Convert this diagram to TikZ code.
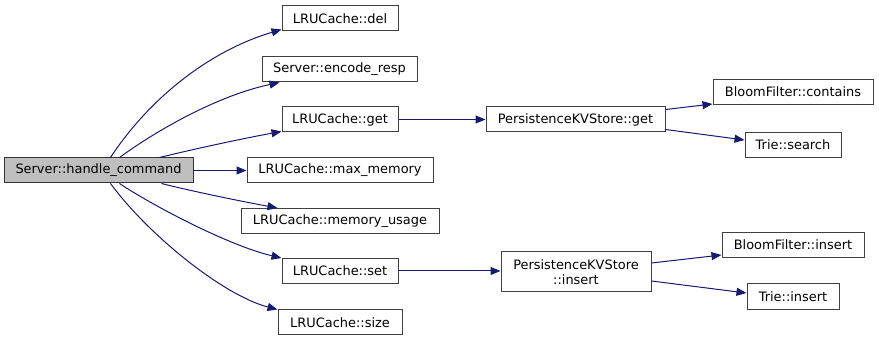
\documentclass[tikz,border=0pt]{standalone}
\usepackage{fontspec}
\setmainfont{DejaVu Sans}
\usetikzlibrary{arrows.meta}
\definecolor{edgeblue}{HTML}{191970}
\definecolor{boxline}{HTML}{404040}
\definecolor{rootfill}{HTML}{BFBFBF}
\tikzset{
  fn/.style={draw=boxline, line width=0.75pt, fill=white, inner sep=0pt,
    minimum height=18.75pt, align=center, font=\fontsize{9.7}{11.2}\selectfont},
  root/.style={fn, fill=rootfill, draw=black!80},
  call/.style={draw=edgeblue, line width=0.75pt,
    -{Triangle[length=7.5pt,width=6pt]}},
}
\begin{document}
\begin{tikzpicture}[x=0.75pt, y=-0.75pt]
\useasboundingbox (0,0) rectangle (879,341);

% functions
\node[root, minimum width=141.75pt] (hc) at (98.5,170.5) {Server::handle\_command};
\node[fn, minimum width=87pt] (del) at (340,18.5) {LRUCache::del};
\node[fn, minimum width=116.25pt] (enc) at (339.5,69.5) {Server::encode\_resp};
\node[fn, minimum width=87pt] (get) at (340,119.5) {LRUCache::get};
\node[fn, minimum width=139.5pt] (maxm) at (340,170.5) {LRUCache::max\_memory};
\node[fn, minimum width=148.5pt] (mem) at (340,221) {LRUCache::memory\_usage};
\node[fn, minimum width=87pt] (set) at (340,271) {LRUCache::set};
\node[fn, minimum width=93pt] (size) at (340,322.5) {LRUCache::size};
\node[fn, minimum width=134.25pt] (pget) at (575.5,119.5) {PersistenceKVStore::get};
\node[fn, minimum width=120pt] (bfc) at (793,92) {BloomFilter::contains};
\node[fn, minimum width=72pt] (ts) at (793,145) {Trie::search};
\node[fn, minimum width=112.5pt, minimum height=30pt] (pins) at (576,272) {PersistenceKVStore\\::insert};
\node[fn, minimum width=106.5pt] (bfi) at (793,245) {BloomFilter::insert};
\node[fn, minimum width=69pt, minimum height=19.5pt] (ti) at (793,296.5) {Trie::insert};

% calls made by handle_command
\draw[call] ([xshift=80.25pt]hc.north west) .. controls (151,96) and (212,50) .. ([yshift=1.5pt]del.south west);
\draw[call] ([xshift=87pt]hc.north west) .. controls (160,128) and (220,95) .. ([xshift=13.5pt]enc.south west);
\draw[call] ([xshift=117pt]hc.north west) .. controls (190,150) and (240,139) .. ([yshift=0.75pt]get.south west);
\draw[call] (hc.east) -- (maxm.west);
\draw[call] ([xshift=118.5pt]hc.south west) .. controls (195,192) and (245,202) .. ([xshift=27.75pt]mem.north west);
\draw[call] ([xshift=87pt]hc.south west) .. controls (155,207) and (230,246) .. (set.north west);
\draw[call] ([xshift=80.25pt]hc.south west) .. controls (150,237) and (225,296) .. (size.north west);

% nested calls
\draw[call] (get.east) -- (pget.west);
\draw[call] ([yshift=7.5pt]pget.east) -- ([yshift=-9pt]bfc.west);
\draw[call] ([yshift=-7.5pt]pget.east) -- ([yshift=3.75pt]ts.west);
\draw[call] (set.east) -- ([yshift=0.75pt]pins.west);
\draw[call] ([yshift=6.75pt]pins.east) -- ([yshift=-7.5pt]bfi.west);
\draw[call] ([yshift=-6.75pt]pins.east) -- ([yshift=2.6pt]ti.west);
\end{tikzpicture}
\end{document}
